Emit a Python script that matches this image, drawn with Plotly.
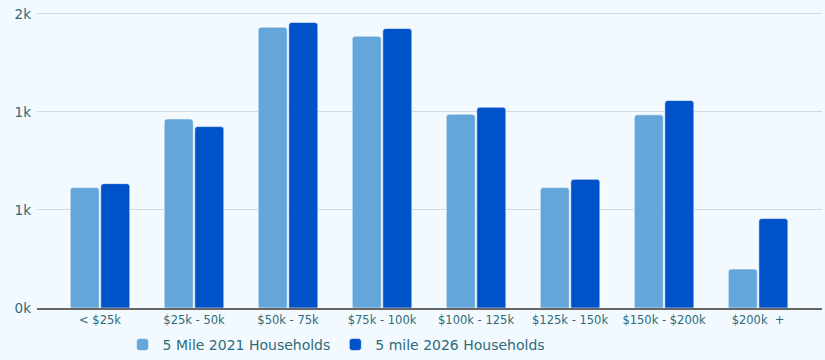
import plotly.graph_objects as go

# Household income brackets
categories = ["< $25k", "$25k - 50k", "$50k - 75k", "$75k - 100k",
              "$100k - 125k", "$125k - 150k", "$150k - $200k", "$200k  +"]

# Household counts per bracket
households_2021 = [614, 964, 1432, 1386, 988, 614, 985, 199]
households_2026 = [634, 925, 1456, 1425, 1024, 656, 1058, 456]

series_names = ["5 Mile 2021 Households", "5 mile 2026 Households"]

# Y axis ticks (values in households, labels rounded to thousands)
y_tick_values = [0, 500, 1000, 1500]
y_tick_labels = ["0k", "1k", "1k", "2k"]

LIGHT = "#64a6d9"
DARK = "#0052c9"
TEXT = "#2f6a78"
BG = "#f3faff"

fig = go.Figure()
for name, vals, color in [(series_names[0], households_2021, LIGHT),
                          (series_names[1], households_2026, DARK)]:
    fig.add_trace(go.Bar(
        x=categories, y=vals, name=name,
        marker=dict(color=color, cornerradius=3,
                    line=dict(color="rgba(255,255,255,0.55)", width=1)),
        hovertemplate="%{x}: %{y}<extra>" + name + "</extra>",
    ))

fig.update_layout(
    width=825, height=360,
    margin=dict(l=37, r=3, t=4, b=52, autoexpand=False),
    paper_bgcolor=BG, plot_bgcolor=BG,
    font=dict(family="DejaVu Sans, Verdana, sans-serif", color=TEXT, size=12),
    barmode="group", bargap=0.35, bargroupgap=0.05,
    showlegend=True,
    legend=dict(orientation="h", x=0.109, xanchor="left",
                yref="container", y=0.042, yanchor="middle",
                font=dict(size=14, color=TEXT), itemwidth=30,
                bgcolor="rgba(0,0,0,0)"),
    xaxis=dict(range=[-0.67, 7.68], showgrid=False, ticks="",
               tickfont=dict(size=11.5, color=TEXT), automargin=False,
               showline=True, linecolor="#666666", linewidth=1.5),
    yaxis=dict(range=[0, 1550], tickvals=y_tick_values, ticktext=y_tick_labels,
               showgrid=True, gridcolor="#d3d9dc", gridwidth=1, automargin=False,
               ticklabelstandoff=5,
               zeroline=False, ticks="", tickfont=dict(size=13.5, color=TEXT)),
)

fig.write_html("out.html")
